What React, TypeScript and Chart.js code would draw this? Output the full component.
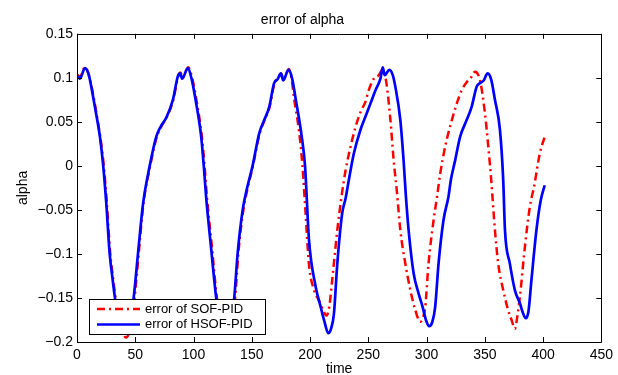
import React, { useEffect, useRef } from "react";
import { Chart, registerables } from "chart.js";

Chart.register(...registerables);

const TITLE = "error of alpha";
const X_LABEL = "time";
const Y_LABEL = "alpha";
const LEGEND_LABELS = ["error of SOF-PID", "error of HSOF-PID"];
const X_TICKS = [0, 50, 100, 150, 200, 250, 300, 350, 400, 450];
const Y_TICKS = [-0.2, -0.15, -0.1, -0.05, 0, 0.05, 0.1, 0.15];

const sofTime = [
  0, 2.5, 6.8, 10, 14, 17, 20, 23, 25.5, 28.5, 31, 33, 37, 42, 45, 48, 49.5, 53, 57, 62.8,
  68.5, 72.5, 77, 82.6, 87, 88.8, 90.6, 95.5, 99, 103, 107.2, 109.5, 111.5, 115.8, 120, 124,
  128, 132, 134.2, 135.8, 138.5, 142.8, 146.5, 151, 156.8, 161, 165.3, 169.5, 172.3, 175.3,
  177.3, 181.8, 184, 186.5, 190.5, 193.5, 196, 199, 203.4, 207.7, 211, 214, 216.5, 219, 223.4,
  227, 230.5, 234.8, 239, 243.3, 247.6, 250.4, 254.7, 259, 261.8, 265.2, 269, 271.8, 274.6,
  277.5, 281.8, 286.1, 290.4, 294.6, 297, 298.9, 301.7, 306, 309, 311.7, 316, 321.7, 326,
  330.2, 334.4, 338, 341.6, 345.9, 350.1, 353, 355.5, 358.7, 361.5, 365.8, 370.1, 373, 375.8,
  378, 380.1, 384.4, 388.6, 392.5, 397.2, 401.4,
];
const sofValues = [
  0.104, 0.101, 0.112, 0.104, 0.08, 0.057, 0.033, 0, -0.04, -0.099, -0.128, -0.149, -0.178,
  -0.195, -0.188, -0.165, -0.149, -0.099, -0.043, 0, 0.033, 0.045, 0.055, 0.075, 0.102, 0.106,
  0.1, 0.112, 0.099, 0.071, 0.033, 0, -0.035, -0.092, -0.149, -0.178, -0.19, -0.18, -0.165,
  -0.149, -0.099, -0.05, -0.025, 0, 0.037, 0.052, 0.067, 0.094, 0.099, 0.105, 0.098, 0.11, 0.1,
  0.075, 0.04, 0, -0.05, -0.111, -0.141, -0.153, -0.163, -0.17, -0.16, -0.13, -0.073, -0.035,
  -0.005, 0.022, 0.044, 0.061, 0.073, 0.086, 0.099, 0.103, 0.109, 0.097, 0.052, 0.006, -0.03,
  -0.073, -0.111, -0.141, -0.164, -0.177, -0.172, -0.16, -0.111, -0.062, -0.035, -0.009, 0.022,
  0.052, 0.071, 0.086, 0.095, 0.1, 0.107, 0.097, 0.06, 0.022, -0.016, -0.073, -0.111, -0.141,
  -0.164, -0.175, -0.185, -0.17, -0.149, -0.092, -0.047, -0.022, 0.014, 0.033,
];

const hsofTime = [
  0, 2.5, 6.8, 10, 13.9, 17, 19.7, 22.5, 25, 28, 30.5, 32.5, 36, 40, 44, 47, 48.7, 52.4, 56.7,
  62.4, 68, 72, 76.7, 82.3, 86.6, 88.5, 90.3, 95.1, 98.5, 102.3, 106.6, 108.8, 110.8, 115,
  119.4, 123, 127, 131, 133.5, 135, 137.9, 142.2, 146, 150.7, 156.4, 160.7, 165, 169.2, 172,
  175, 177, 181.5, 184.5, 187.8, 192.9, 195.7, 199.1, 204.8, 209.1, 212, 215.7, 218, 220.5,
  223.4, 227.6, 230.5, 233.3, 237.6, 243.3, 247.6, 251.9, 256.2, 260.4, 262.4, 264.1, 268.1,
  271, 273.2, 277.5, 280.3, 282.3, 284.6, 288.9, 293.2, 296.6, 299.5, 302.3, 305, 307.4, 310.3,
  314.5, 318.8, 321, 324.5, 328.8, 334.4, 338.7, 343, 345.9, 349, 352.4, 355.5, 358.7, 363,
  365.8, 367.3, 371.5, 375.8, 380.1, 383, 385.2, 387.5, 390, 394.3, 398, 401.4,
];
const hsofValues = [
  0.102, 0.099, 0.111, 0.104, 0.078, 0.055, 0.033, 0, -0.04, -0.099, -0.128, -0.149, -0.175,
  -0.19, -0.185, -0.165, -0.149, -0.099, -0.043, 0, 0.033, 0.045, 0.055, 0.075, 0.102, 0.105,
  0.099, 0.111, 0.098, 0.071, 0.033, 0, -0.035, -0.092, -0.149, -0.178, -0.19, -0.18, -0.165,
  -0.149, -0.099, -0.05, -0.025, 0, 0.037, 0.052, 0.067, 0.094, 0.098, 0.105, 0.097, 0.109, 0.1,
  0.075, 0.033, 0, -0.084, -0.137, -0.16, -0.175, -0.19, -0.185, -0.168, -0.111, -0.054, -0.037,
  -0.016, 0.014, 0.041, 0.056, 0.071, 0.086, 0.099, 0.112, 0.103, 0.109, 0.103, 0.09, 0.052,
  0.006, -0.035, -0.073, -0.122, -0.145, -0.16, -0.175, -0.182, -0.177, -0.16, -0.111, -0.062,
  -0.035, -0.015, 0.006, 0.033, 0.052, 0.067, 0.09, 0.094, 0.097, 0.105, 0.098, 0.075, 0.041,
  -0.016, -0.073, -0.111, -0.141, -0.156, -0.168, -0.173, -0.165, -0.13, -0.073, -0.039, -0.022,
];

const FONT = "'Liberation Sans', Arial, Helvetica, sans-serif";
const RED = "rgb(255,0,0)";
const BLUE = "rgb(0,0,255)";
const RED_DASH = [8, 4, 2, 4];

const toPoints = (xs: number[], ys: number[]) => xs.map((x, i) => ({ x, y: ys[i] }));

const boxPlugin = {
  id: "matlabBox",
  afterDatasetsDraw(chart: any) {
    const { ctx, chartArea, scales } = chart;
    const { left, right, top, bottom } = chartArea;
    ctx.save();
    ctx.strokeStyle = "#000";
    ctx.lineWidth = 1;
    ctx.beginPath();
    ctx.rect(Math.round(left) + 0.5, Math.round(top) + 0.5, Math.round(right - left), Math.round(bottom - top));
    ctx.stroke();
    const tl = 5;
    ctx.beginPath();
    X_TICKS.forEach((v) => {
      const px = Math.round(scales.x.getPixelForValue(v)) + 0.5;
      ctx.moveTo(px, bottom);
      ctx.lineTo(px, bottom - tl);
      ctx.moveTo(px, top);
      ctx.lineTo(px, top + tl);
    });
    Y_TICKS.forEach((v) => {
      const py = Math.round(scales.y.getPixelForValue(v)) + 0.5;
      ctx.moveTo(left, py);
      ctx.lineTo(left + tl, py);
      ctx.moveTo(right, py);
      ctx.lineTo(right - tl, py);
    });
    ctx.stroke();

    // legend box (drawn above the data lines, as in the reference)
    const lx = left + 12;
    const ly = Math.round(bottom) - 43;
    const lw = 176;
    const lh = 35;
    ctx.fillStyle = "#fff";
    ctx.fillRect(lx, ly, lw, lh);
    ctx.strokeRect(lx + 0.5, ly + 0.5, lw, lh);
    const rows = [
      { color: RED, dash: RED_DASH, width: 2.5 },
      { color: BLUE, dash: [], width: 2.7 },
    ];
    ctx.font = `13px ${FONT}`;
    ctx.textBaseline = "middle";
    rows.forEach((r, i) => {
      const cy = ly + 10 + i * 15.5;
      ctx.strokeStyle = r.color;
      ctx.lineWidth = r.width;
      ctx.setLineDash(r.dash);
      ctx.beginPath();
      ctx.moveTo(lx + 8, cy);
      ctx.lineTo(lx + 51, cy);
      ctx.stroke();
      ctx.setLineDash([]);
      ctx.fillStyle = "#000";
      ctx.fillText(LEGEND_LABELS[i], lx + 56, cy);
    });
    ctx.restore();
  },
};

export default function App() {
  const ref = useRef<HTMLCanvasElement | null>(null);
  useEffect(() => {
    if (!ref.current) return;
    const chart = new Chart(ref.current, {
      type: "line",
      data: {
        datasets: [
          {
            label: LEGEND_LABELS[0],
            data: toPoints(sofTime, sofValues),
            borderColor: RED,
            borderWidth: 2.5,
            borderDash: RED_DASH,
            pointRadius: 0,
            cubicInterpolationMode: "monotone",
            fill: false,
            order: 2,
          },
          {
            label: LEGEND_LABELS[1],
            data: toPoints(hsofTime, hsofValues),
            borderColor: BLUE,
            borderWidth: 2.7,
            pointRadius: 0,
            cubicInterpolationMode: "monotone",
            fill: false,
            order: 1,
          },
        ],
      },
      options: {
        animation: false,
        responsive: false,
        maintainAspectRatio: false,
        layout: { padding: { left: 0, right: 13, top: 0, bottom: 0 } },
        plugins: {
          legend: { display: false },
          tooltip: { enabled: false },
          title: {
            display: true,
            text: TITLE,
            color: "#000",
            font: { family: FONT, size: 14, weight: "normal" },
            padding: { top: 12, bottom: 5 },
          },
        },
        scales: {
          x: {
            type: "linear",
            min: 0,
            max: 450,
            afterBuildTicks: (s: any) => {
              s.ticks = X_TICKS.map((v) => ({ value: v }));
            },
            afterFit: (s: any) => {
              s.height = 33;
            },
            grid: { display: false, drawTicks: false },
            border: { display: false },
            ticks: {
              color: "#000",
              font: { family: FONT, size: 14 },
              padding: 5,
              maxRotation: 0,
              autoSkip: false,
            },
            title: {
              display: true,
              text: X_LABEL,
              color: "#000",
              font: { family: FONT, size: 14 },
              padding: { top: 0, bottom: -3 },
            },
          },
          y: {
            type: "linear",
            min: -0.2,
            max: 0.15,
            afterBuildTicks: (s: any) => {
              s.ticks = Y_TICKS.map((v) => ({ value: v }));
            },
            afterFit: (s: any) => {
              s.width = 77;
            },
            grid: { display: false, drawTicks: false },
            border: { display: false },
            ticks: {
              color: "#000",
              font: { family: FONT, size: 14 },
              padding: 4,
              autoSkip: false,
              callback: (v: any) => {
                const n = Math.round(Number(v) * 100) / 100;
                return n < 0 ? "\u2212" + String(-n) : String(n);
              },
            },
            title: {
              display: true,
              text: Y_LABEL,
              color: "#000",
              font: { family: FONT, size: 14 },
              padding: { top: 15, bottom: 0 },
            },
          },
        },
      },
      plugins: [boxPlugin],
    } as any);
    return () => chart.destroy();
  }, []);
  return (
    <div style={{ position: "fixed", left: 0, top: 0, width: 618, height: 375, background: "#fff" }}>
      <canvas ref={ref} width={618} height={375} style={{ width: 618, height: 375 }} />
    </div>
  );
}
